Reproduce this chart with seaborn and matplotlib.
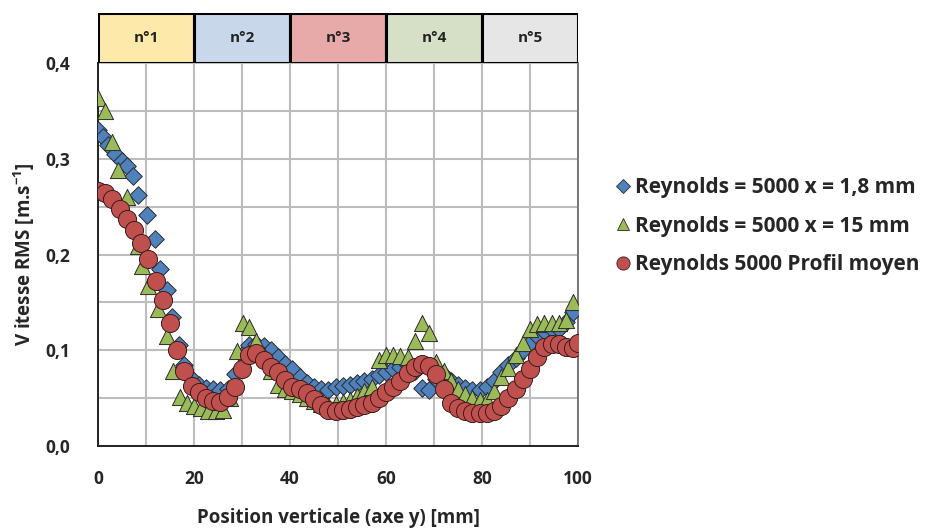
import numpy as np
import pandas as pd
import matplotlib
matplotlib.use("Agg")
import matplotlib.pyplot as plt
import seaborn as sns
from matplotlib.ticker import MultipleLocator, FuncFormatter
from matplotlib.lines import Line2D

# Reynolds = 5000, x = 1,8 mm (losanges bleus)
x_18 = [0, 1, 2, 3.5, 5, 6, 7.3, 8.3, 10.2, 11.9, 13, 14.4, 15.5, 16.8, 18, 19.5,
        21, 22.5, 24, 25.5, 27, 28.5, 30, 31.5, 33, 34.5, 36, 37.5, 39, 40.5,
        42, 43.5, 45, 46.5, 48, 49.5, 51, 52.5, 54, 55.5, 57, 58.5, 60, 61.5,
        63, 64.5, 66, 67.5, 69, 70.5, 72, 73.5, 75, 76.5, 78, 79.5, 81, 82.5,
        84, 85.5, 87, 88.5, 90, 91.5, 93, 94.5, 96, 97.5, 99]
v_18 = [0.330, 0.323, 0.314, 0.305, 0.298, 0.292, 0.282, 0.262, 0.241, 0.216,
        0.185, 0.163, 0.135, 0.105, 0.085, 0.070, 0.064, 0.061, 0.060, 0.058,
        0.060, 0.075, 0.095, 0.105, 0.107, 0.104, 0.100, 0.093, 0.086, 0.080,
        0.072, 0.066, 0.062, 0.060, 0.059, 0.062, 0.063, 0.064, 0.066, 0.068,
        0.070, 0.074, 0.077, 0.080, 0.083, 0.085, 0.078, 0.061, 0.058, 0.070,
        0.074, 0.068, 0.064, 0.061, 0.058, 0.058, 0.062, 0.068, 0.077, 0.085,
        0.092, 0.100, 0.108, 0.115, 0.120, 0.122, 0.122, 0.130, 0.140]

# Reynolds = 5000, x = 15 mm (triangles verts)
x_15 = [0, 1.5, 3, 4.2, 6, 8.3, 9.2, 10.4, 12.5, 14.4, 15.6, 17, 18.5, 20, 21.5,
        23, 24.5, 26, 27.5, 28.9, 30.2, 31.5, 33, 34.5, 36, 37.5, 39, 40.5, 42,
        43.5, 45, 46.5, 48, 49.5, 51, 52.5, 54, 55.5, 57, 58.5, 60, 61.5, 63,
        64.5, 66, 67.5, 69, 70.5, 72, 73.5, 75, 76.5, 78, 79.5, 81, 82.5, 84,
        85.5, 87, 88.5, 90, 91.5, 93, 94.5, 96, 97.5, 99]
v_15 = [0.363, 0.350, 0.318, 0.288, 0.260, 0.209, 0.188, 0.167, 0.143, 0.115,
        0.078, 0.051, 0.045, 0.042, 0.040, 0.037, 0.037, 0.038, 0.050, 0.099,
        0.128, 0.124, 0.110, 0.095, 0.078, 0.064, 0.060, 0.057, 0.054, 0.050,
        0.047, 0.044, 0.043, 0.044, 0.046, 0.048, 0.052, 0.057, 0.062, 0.090,
        0.095, 0.095, 0.094, 0.093, 0.110, 0.128, 0.118, 0.088, 0.078, 0.068,
        0.060, 0.054, 0.050, 0.048, 0.048, 0.057, 0.072, 0.082, 0.095, 0.108,
        0.122, 0.127, 0.128, 0.128, 0.128, 0.132, 0.150]

# Reynolds 5000, profil moyen (cercles rouges)
x_moy = [0, 1.5, 3, 4.5, 6, 7.5, 9, 10.5, 12, 13.5, 15, 16.5, 18, 19.5, 21, 22.5,
         24, 25.5, 27, 28.5, 30, 31.5, 33, 34.5, 36, 37.5, 39, 40.5, 42, 43.5,
         45, 46.5, 48, 49.5, 51, 52.5, 54, 55.5, 57, 58.5, 60, 61.5, 63, 64.5,
         66, 67.5, 69, 70.5, 72, 73.5, 75, 76.5, 78, 79.5, 81, 82.5, 84, 85.5,
         87, 88.5, 90, 91.5, 93, 94.5, 96, 97.5, 99, 100]
v_moy = [0.266, 0.264, 0.258, 0.247, 0.237, 0.226, 0.212, 0.195, 0.172, 0.152,
         0.128, 0.100, 0.078, 0.063, 0.056, 0.050, 0.047, 0.046, 0.051, 0.062,
         0.080, 0.095, 0.097, 0.090, 0.083, 0.077, 0.069, 0.062, 0.060, 0.055,
         0.049, 0.043, 0.038, 0.037, 0.038, 0.039, 0.041, 0.043, 0.045, 0.050,
         0.056, 0.062, 0.068, 0.076, 0.083, 0.086, 0.084, 0.075, 0.060, 0.045,
         0.040, 0.037, 0.035, 0.035, 0.035, 0.037, 0.042, 0.050, 0.060, 0.070,
         0.080, 0.093, 0.103, 0.107, 0.107, 0.103, 0.102, 0.108]

zone_labels = ["n°1", "n°2", "n°3", "n°4", "n°5"]
zone_edges = [0, 20, 40, 60, 80, 100]
zone_colors = ["#fde9a9", "#c9d7ea", "#e8aaa9", "#d5e0c6", "#e6e6e6"]

series_labels = ["Reynolds = 5000 x = 1,8 mm",
                 "Reynolds = 5000 x = 15 mm",
                 "Reynolds 5000 Profil moyen"]

sns.set_theme(style="white")
plt.rcParams['font.family'] = ['Open Sans', 'DejaVu Sans']
plt.rcParams['font.weight'] = 'bold'
plt.rcParams['mathtext.fontset'] = 'custom'
plt.rcParams['mathtext.bf'] = 'Open Sans:bold'
plt.rcParams['mathtext.rm'] = 'Open Sans:bold'
plt.rcParams['mathtext.default'] = 'bf'

fig = plt.figure(figsize=(9.3, 5.31), dpi=100)
ax = fig.add_axes([0.1054, 0.16, 0.516, 0.7214])
ax_top = fig.add_axes([0.1054, 0.8814, 0.516, 0.094], sharex=ax)

df_18 = pd.DataFrame({'x': x_18, 'v': v_18})
df_15 = pd.DataFrame({'x': x_15, 'v': v_15})
df_moy = pd.DataFrame({'x': x_moy, 'v': v_moy})

edge = "#2b2b2b"
sns.scatterplot(data=df_18, x='x', y='v', ax=ax, marker='D', s=80,
                color="#4f81bd", edgecolor=edge, linewidth=0.7, zorder=3, legend=False)
sns.scatterplot(data=df_15, x='x', y='v', ax=ax, marker='^', s=135,
                color="#9bbb59", edgecolor=edge, linewidth=0.7, zorder=4, legend=False)
sns.scatterplot(data=df_moy, x='x', y='v', ax=ax, marker='o', s=170,
                color="#c0504d", edgecolor="#3a1c1c", linewidth=0.7, zorder=5, legend=False)

ax.set_xlim(0, 100)
ax.set_ylim(0, 0.4)
ax.xaxis.set_major_locator(MultipleLocator(20))
ax.xaxis.set_minor_locator(MultipleLocator(10))
ax.yaxis.set_major_locator(MultipleLocator(0.1))
ax.yaxis.set_minor_locator(MultipleLocator(0.05))
ax.yaxis.set_major_formatter(FuncFormatter(lambda v, p: f"{v:.1f}".replace('.', ',')))
ax.grid(which='both', color='#bdbdbd', linewidth=1.5, zorder=0)
ax.set_axisbelow(True)
ax.tick_params(which='both', length=0, labelsize=12.5)
ax.tick_params(axis='x', pad=17)
ax.tick_params(axis='y', pad=20)
for lab in ax.get_xticklabels() + ax.get_yticklabels():
    lab.set_fontweight('bold')
for sp in ax.spines.values():
    sp.set_color('#222222')
    sp.set_linewidth(1.4)
ax.spines['right'].set_color('#777777')
ax.spines['top'].set_visible(False)

ax.set_xlabel("Position verticale (axe y) [mm]", fontsize=13.5, fontweight='bold', labelpad=15)
ax.set_ylabel(r"V itesse RMS [m.s$^{-1}$]", fontsize=13.5, fontweight='bold', labelpad=6)

# bandeau des zones
for i, lab in enumerate(zone_labels):
    ax_top.axvspan(zone_edges[i], zone_edges[i + 1], color=zone_colors[i], ec='black', lw=2.2)
    ax_top.text((zone_edges[i] + zone_edges[i + 1]) / 2, 0.5, lab, ha='center', va='center',
                fontsize=11, fontweight='bold', color='#222222')
ax_top.set_ylim(0, 1)
ax_top.axis('off')

handles = [Line2D([], [], ls='', marker='D', ms=7, mfc="#4f81bd", mec=edge, mew=0.6),
           Line2D([], [], ls='', marker='^', ms=9, mfc="#9bbb59", mec=edge, mew=0.6),
           Line2D([], [], ls='', marker='o', ms=9.5, mfc="#c0504d", mec="#3a1c1c", mew=0.6)]
fig.legend(handles, series_labels, loc='center left', bbox_to_anchor=(0.638, 0.574),
           frameon=False, handletextpad=0.1, handlelength=1.0, labelspacing=0.85,
           prop={'weight': 'bold', 'size': 15})

fig.savefig("out.png", dpi=100)
